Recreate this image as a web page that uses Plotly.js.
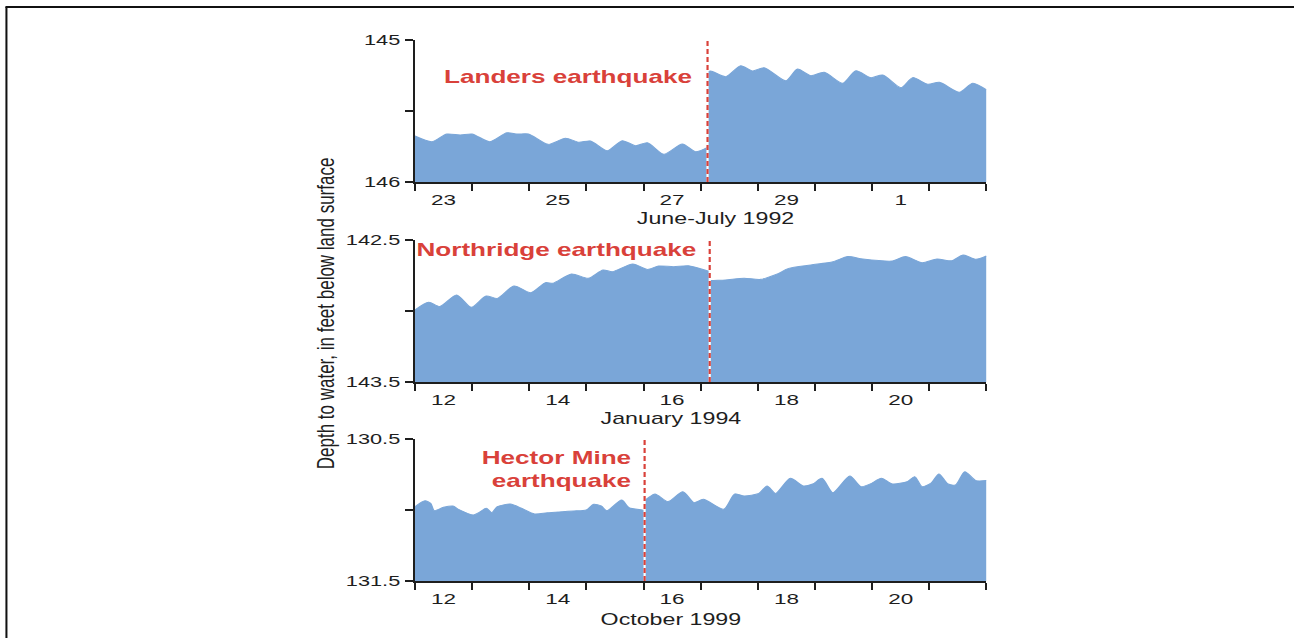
<!DOCTYPE html>
<html>
<head>
<meta charset="utf-8">
<script src="https://cdn.plot.ly/plotly-3.0.1.min.js"></script>
<style>
  html, body { margin: 0; padding: 0; background: #ffffff; overflow: hidden; }
  #chart { width: 892px; height: 638px; transform: scaleX(1.45067); transform-origin: 0 0; }
</style>
</head>
<body>
<div id="chart"></div>
<script>
// ---------------- DATA ----------------
// Day offsets are days after 00:00 of the start date; depths are feet below land surface.

// Landers earthquake, June-July 1992
const landersStart = '1992-06-23';
const landersQuakeDay = 5.12;
const landersBeforeDays  = [0, 0.298, 0.561, 0.794, 0.999, 1.307, 1.612, 1.788, 1.986, 2.336, 2.634, 2.867, 3.072, 3.365, 3.628, 3.861, 4.066, 4.357, 4.679, 4.912, 5.088, 5.12];
const landersBeforeDepth = [145.676, 145.716, 145.662, 145.669, 145.662, 145.716, 145.653, 145.662, 145.662, 145.735, 145.692, 145.720, 145.711, 145.780, 145.709, 145.744, 145.723, 145.805, 145.732, 145.787, 145.763, 145.755];
const landersAfterDays   = [5.12, 5.175, 5.438, 5.701, 5.906, 6.109, 6.490, 6.695, 6.928, 7.161, 7.483, 7.717, 7.980, 8.184, 8.505, 8.710, 8.973, 9.176, 9.527, 9.762, 10.0];
const landersAfterDepth  = [145.225, 145.218, 145.258, 145.181, 145.218, 145.195, 145.287, 145.204, 145.251, 145.227, 145.305, 145.216, 145.265, 145.246, 145.336, 145.265, 145.312, 145.298, 145.368, 145.305, 145.352];
const landersTickDates = ['1992-06-23', '1992-06-25', '1992-06-27', '1992-06-29', '1992-07-01'];
const landersTickText  = ['23', '25', '27', '29', '1'];
const landersDepthRange = [146, 145];
const landersDepthTicks = [145, 145.5, 146];
const landersDepthTickText = ['145', '', '146'];

// Northridge earthquake, January 1994
const northridgeStart = '1994-01-12';
const northridgeQuakeDay = 5.158;
const northridgeBeforeDays  = [0, 0.242, 0.436, 0.729, 0.988, 1.248, 1.442, 1.735, 2.028, 2.287, 2.417, 2.741, 3.034, 3.293, 3.456, 3.812, 4.071, 4.266, 4.526, 4.786, 5.110, 5.158];
const northridgeBeforeDepth = [142.993, 142.939, 142.969, 142.887, 142.974, 142.894, 142.911, 142.824, 142.871, 142.800, 142.805, 142.739, 142.770, 142.711, 142.723, 142.669, 142.707, 142.683, 142.688, 142.681, 142.716, 142.722];
const northridgeAfterDays   = [5.158, 5.188, 5.435, 5.759, 6.052, 6.344, 6.539, 6.928, 7.317, 7.576, 7.837, 8.356, 8.582, 8.875, 9.134, 9.394, 9.590, 9.816, 10.0];
const northridgeAfterDepth  = [142.788, 142.786, 142.782, 142.770, 142.777, 142.739, 142.700, 142.676, 142.653, 142.617, 142.634, 142.648, 142.617, 142.660, 142.634, 142.646, 142.606, 142.636, 142.613];
const northridgeTickDates = ['1994-01-12', '1994-01-14', '1994-01-16', '1994-01-18', '1994-01-20'];
const northridgeTickText  = ['12', '14', '16', '18', '20'];
const northridgeDepthRange = [143.5, 142.5];
const northridgeDepthTicks = [142.5, 143, 143.5];
const northridgeDepthTickText = ['142.5', '', '143.5'];

// Hector Mine earthquake, October 1999
const hectorStart = '1999-10-12';
const hectorQuakeDay = 4.019;
const hectorBeforeDays  = [0, 0.177, 0.275, 0.340, 0.501, 0.664, 0.761, 1.022, 1.118, 1.248, 1.346, 1.442, 1.670, 1.865, 2.093, 2.319, 2.580, 2.774, 3.000, 3.130, 3.260, 3.358, 3.617, 3.747, 3.975, 4.019];
const hectorBeforeDepth = [130.977, 130.934, 130.953, 131.005, 130.981, 130.972, 130.995, 131.035, 131.019, 130.988, 131.019, 130.977, 130.958, 130.988, 131.028, 131.019, 131.012, 131.007, 131.000, 130.960, 130.972, 131.005, 130.930, 130.984, 131.000, 131.004];
const hectorAfterDays   = [4.019, 4.071, 4.201, 4.429, 4.688, 4.883, 5.046, 5.403, 5.598, 5.759, 6.018, 6.162, 6.311, 6.570, 6.798, 6.961, 7.122, 7.312, 7.610, 7.804, 7.967, 8.162, 8.356, 8.616, 8.745, 8.875, 9.038, 9.168, 9.329, 9.459, 9.622, 9.816, 10.0];
const hectorAfterDepth  = [130.930, 130.918, 130.887, 130.941, 130.871, 130.948, 130.925, 130.995, 130.887, 130.901, 130.883, 130.831, 130.883, 130.777, 130.831, 130.817, 130.777, 130.878, 130.761, 130.836, 130.817, 130.777, 130.817, 130.800, 130.765, 130.836, 130.808, 130.746, 130.817, 130.824, 130.730, 130.793, 130.793];
const hectorTickDates = ['1999-10-12', '1999-10-14', '1999-10-16', '1999-10-18', '1999-10-20'];
const hectorTickText  = ['12', '14', '16', '18', '20'];
const hectorDepthRange = [131.5, 130.5];
const hectorDepthTicks = [130.5, 131, 131.5];
const hectorDepthTickText = ['130.5', '', '131.5'];

const windowDays = 10;
const yTitle = 'Depth to water, in feet below land surface';

// ---------------- STYLE / LAYOUT HELPERS ----------------
const DAY = 86400000;
const INK = '#1e1e1e';
const FILL = '#7aa6d8';
const RED = '#d9413a';
const FONT = 'Liberation Sans, Arial, Helvetica, sans-serif';
const S = 1294 / 892;             // horizontal stretch of the reference picture
const L = 285.7, R = 679.7;       // plot left/right (unstretched px)
const T = 40, B = 581;            // plot top/bottom (px)
const px = x => (x / S - L) / (R - L);
const py = y => (B - y) / (B - T);

function dateAt(start, offset) {
  const t = Date.parse(start + 'T00:00:00Z') + offset * DAY;
  return new Date(t).toISOString().slice(0, 19).replace('T', ' ');
}
function noonOf(d) { return d + ' 12:00:00'; }

const panels = [
  { start: landersStart, quake: landersQuakeDay, bd: landersBeforeDays, bv: landersBeforeDepth, ad: landersAfterDays, av: landersAfterDepth,
    tickDates: landersTickDates, tickText: landersTickText, range: landersDepthRange, yt: landersDepthTicks, ytt: landersDepthTickText,
    dom: [py(182), py(40)] },
  { start: northridgeStart, quake: northridgeQuakeDay, bd: northridgeBeforeDays, bv: northridgeBeforeDepth, ad: northridgeAfterDays, av: northridgeAfterDepth,
    tickDates: northridgeTickDates, tickText: northridgeTickText, range: northridgeDepthRange, yt: northridgeDepthTicks, ytt: northridgeDepthTickText,
    dom: [py(382), py(240)] },
  { start: hectorStart, quake: hectorQuakeDay, bd: hectorBeforeDays, bv: hectorBeforeDepth, ad: hectorAfterDays, av: hectorAfterDepth,
    tickDates: hectorTickDates, tickText: hectorTickText, range: hectorDepthRange, yt: hectorDepthTicks, ytt: hectorDepthTickText,
    dom: [py(581), py(439)] }
];

const traces = [];
const layout = {
  width: 892, height: 638,
  margin: { l: L, r: 892 - R, t: T, b: 638 - B, pad: 0 },
  paper_bgcolor: '#ffffff', plot_bgcolor: '#ffffff',
  showlegend: false,
  font: { family: FONT, color: INK },
  shapes: [], annotations: []
};

panels.forEach((p, i) => {
  const n = i === 0 ? '' : String(i + 1);
  const xa = 'x' + n, ya = 'y' + n;
  const bottom = p.range[0];
  const segs = [[p.bd, p.bv], [p.ad, p.av]];
  segs.forEach(([days, vals]) => {
    const xs = days.map(d => dateAt(p.start, d));
    traces.push({ type: 'scatter', mode: 'lines', x: [xs[0], xs[xs.length - 1]], y: [bottom, bottom],
      xaxis: xa, yaxis: ya, line: { width: 0, color: FILL }, hoverinfo: 'skip' });
    traces.push({ type: 'scatter', mode: 'lines', x: xs, y: vals, xaxis: xa, yaxis: ya,
      fill: 'tonexty', fillcolor: FILL, line: { color: FILL, width: 1, shape: 'spline', smoothing: 0.7 }, hoverinfo: 'skip' });
  });

  layout['xaxis' + n] = {
    type: 'date', anchor: ya, domain: [0, 1],
    range: [dateAt(p.start, 0), dateAt(p.start, windowDays)],
    tickmode: 'array', tickvals: p.tickDates.map(noonOf), ticktext: p.tickText,
    ticks: '', ticklabelstandoff: 2, showline: true, linecolor: INK, linewidth: 2, showgrid: false, zeroline: false,
    tickfont: { family: FONT, size: 15.5, color: INK },
    minor: { tickmode: 'linear', tick0: dateAt(p.start, 0), dtick: DAY, ticks: 'outside', ticklen: 7, tickwidth: 1.4, tickcolor: INK, showgrid: false },
    fixedrange: true
  };
  layout['yaxis' + n] = {
    anchor: xa, domain: p.dom, range: p.range,
    tickmode: 'array', tickvals: p.yt, ticktext: p.ytt,
    ticks: 'outside', ticklen: 5.5, tickwidth: 1.4, tickcolor: INK,
    showline: true, linecolor: INK, linewidth: 1.6, showgrid: false, zeroline: false,
    tickfont: { family: FONT, size: 15, color: INK }, fixedrange: true
  };

  const qx = dateAt(p.start, p.quake);
  layout.shapes.push({ type: 'line', xref: xa, yref: ya + ' domain', x0: qx, x1: qx, y0: 0, y1: 1, line: { color: '#ffffff', width: 1.5 } });
  layout.shapes.push({ type: 'line', xref: xa, yref: ya + ' domain', x0: qx, x1: qx, y0: 0, y1: 1, line: { color: RED, width: 1.5, dash: '5px,3px' } });
});

// frame lines
layout.shapes.push({ type: 'line', xref: 'paper', yref: 'paper', x0: px(5), x1: 1.7, y0: py(7), y1: py(7), line: { color: '#111', width: 2 } });
layout.shapes.push({ type: 'line', xref: 'paper', yref: 'paper', x0: px(6), x1: px(6), y0: py(7), y1: py(660), line: { color: '#111', width: 1.4 } });

const redFont = { family: FONT, size: 18, color: RED, weight: 'bold' };
const axFont = { family: FONT, size: 16, color: INK };
layout.annotations.push(
  { xref: 'paper', yref: 'paper', x: px(325), y: py(313), text: yTitle, textangle: -90, showarrow: false, xanchor: 'center', yanchor: 'middle', font: { family: FONT, size: 17, color: INK } },
  { xref: 'paper', yref: 'paper', x: px(716), y: py(219), text: 'June-July 1992', showarrow: false, xanchor: 'center', yanchor: 'middle', font: axFont },
  { xref: 'paper', yref: 'paper', x: px(670), y: py(418), text: 'January 1994', showarrow: false, xanchor: 'center', yanchor: 'middle', font: axFont },
  { xref: 'paper', yref: 'paper', x: px(670), y: py(619), text: 'October 1999', showarrow: false, xanchor: 'center', yanchor: 'middle', font: axFont },
  { xref: 'paper', yref: 'paper', x: px(694), y: py(77), text: 'Landers earthquake', showarrow: false, xanchor: 'right', yanchor: 'middle', font: redFont },
  { xref: 'paper', yref: 'paper', x: px(699), y: py(250), text: 'Northridge earthquake', showarrow: false, xanchor: 'right', yanchor: 'middle', font: redFont },
  { xref: 'paper', yref: 'paper', x: px(633), y: py(469), text: 'Hector Mine<br>earthquake', align: 'right', showarrow: false, xanchor: 'right', yanchor: 'middle', font: redFont }
);

Plotly.newPlot('chart', traces, layout, { staticPlot: true, displayModeBar: false });
</script>
</body>
</html>
